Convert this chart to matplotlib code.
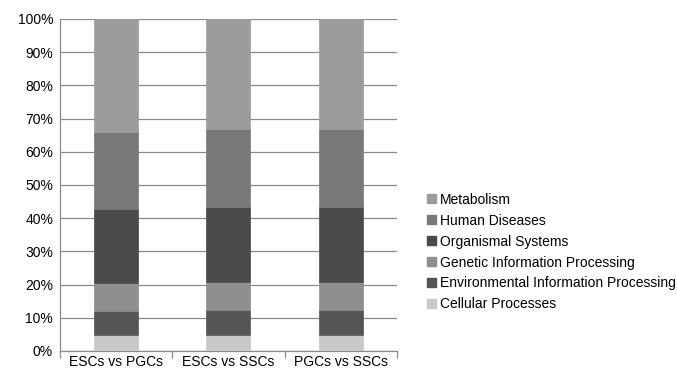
import matplotlib
matplotlib.use("Agg")
import matplotlib.pyplot as plt
from matplotlib.patches import Patch
from matplotlib.ticker import FuncFormatter, MultipleLocator

plt.rcParams['font.family'] = ['Liberation Sans', 'DejaVu Sans']

categories = ["ESCs vs PGCs", "ESCs vs SSCs", "PGCs vs SSCs"]
series_names = ["Cellular Processes", "Environmental Information Processing",
                "Genetic Information Processing", "Organismal Systems",
                "Human Diseases", "Metabolism"]
cellular = [4.8, 4.8, 4.8]
environmental = [7.2, 7.5, 7.5]
genetic = [8.6, 8.6, 8.6]
organismal = [22.1, 22.4, 22.4]
human = [23.3, 23.6, 23.6]
metabolism = [34.0, 33.1, 33.1]
series = [cellular, environmental, genetic, organismal, human, metabolism]
colors = ["#c8c8c8", "#555555", "#8e8e8e", "#4a4a4a", "#797979", "#9c9c9c"]

fig = plt.figure(figsize=(6.77, 3.72), dpi=100)
ax = fig.add_axes([0.0886, 0.0565, 0.4975, 0.8925])

x = list(range(len(categories)))
bottom = [0.0] * len(categories)
for vals, c in zip(series, colors):
    ax.bar(x, vals, width=0.39, bottom=bottom, color=c, edgecolor=c, linewidth=0.5, zorder=3)
    bottom = [b + v for b, v in zip(bottom, vals)]

ax.set_xlim(-0.5, 2.5)
ax.set_ylim(0, 100)
ax.yaxis.set_major_locator(MultipleLocator(10))
ax.yaxis.set_major_formatter(FuncFormatter(lambda v, p: f"{int(v)}%"))
ax.grid(axis='y', color='#8a8a8a', linewidth=0.9, zorder=0)
ax.set_xticks(x)
ax.set_xticklabels(categories, fontsize=10)
ax.tick_params(axis='x', length=0, pad=3)
ax.tick_params(axis='y', length=0, labelsize=10, pad=5)
ax.set_xticks([-0.5, 0.5, 1.5, 2.5], minor=True)
ax.tick_params(axis='x', which='minor', length=5, color='#8a8a8a', width=0.9)
for s in ['top', 'right']:
    ax.spines[s].set_visible(False)
ax.spines['left'].set_color('#8a8a8a')
ax.spines['bottom'].set_color('#8a8a8a')
ax.spines['left'].set_linewidth(0.9)
ax.spines['bottom'].set_linewidth(0.9)

handles = [Patch(facecolor=c, edgecolor=c, label=n) for n, c in zip(series_names, colors)]
handles = handles[::-1]
leg = fig.legend(handles=handles, loc='upper left', bbox_to_anchor=(0.623, 0.497),
                 frameon=False, fontsize=10, handlelength=0.6, handleheight=0.6,
                 handletextpad=0.3, labelspacing=0.5, borderaxespad=0)

fig.savefig("out.png", dpi=100)
